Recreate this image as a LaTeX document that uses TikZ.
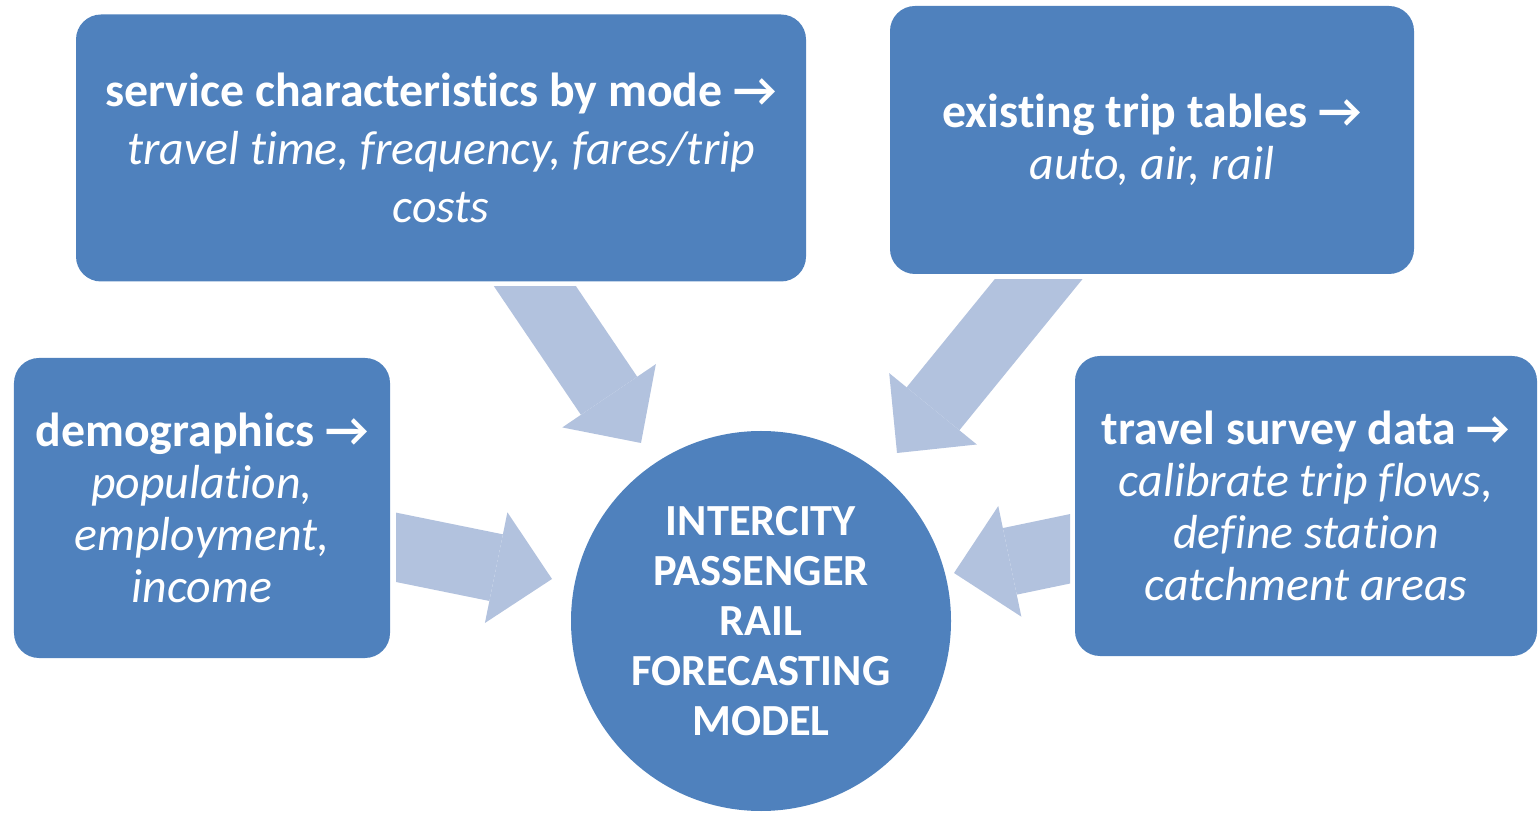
\documentclass[tikz,border=0pt]{standalone}
\usepackage{fontspec}
\setmainfont{Carlito}[Ligatures=NoCommon]
\usepackage{xcolor}
\usepackage{tikz}
\usetikzlibrary{shapes,arrows.meta,positioning,calc}

\definecolor{boxblue}{HTML}{4F81BD}
\definecolor{flowblue}{HTML}{B2C2DE}

\begin{document}
\begin{tikzpicture}[
    inbox/.style={rectangle, rounded corners=0.5cm, fill=boxblue, text=white, align=center,
        inner sep=0pt, font=\fontsize{27.2}{29.6}\selectfont},
    hub/.style={circle, fill=boxblue, text=white, align=center, inner sep=0pt,
        minimum size=7.6cm, font=\fontsize{25.3}{28.4}\selectfont\bfseries},
    flow/.style={draw=flowblue, line width=1.36cm,
        -{Triangle[length=1.14cm, width=2.26cm, line width=0pt]}, flowblue}
]
    \useasboundingbox (0,0) rectangle (30.78,16.28);

    % Inputs
    \node[inbox, minimum width=14.6cm, minimum height=5.34cm,
          font=\fontsize{27.2}{33}\selectfont] (svc) at (8.82,13.32)
        {\textbf{service characteristics by mode →}\\
         \textit{travel time, frequency, fares/trip}\\
         \textit{costs}};
    \node[inbox, minimum width=10.48cm, minimum height=5.36cm] (trips) at (23.04,13.48)
        {\textbf{existing trip tables →}\\
         \textit{auto, air, rail}};
    \node[inbox, minimum width=7.52cm, minimum height=6cm] (demo) at (4.04,6.12)
        {\textbf{demographics →}\\
         \textit{population,}\\
         \textit{employment,}\\
         \textit{income}};
    \node[inbox, minimum width=9.24cm, minimum height=6cm] (survey) at (26.12,6.16)
        {\textbf{travel survey data →}\\
         \textit{calibrate trip flows,}\\
         \textit{define station}\\
         \textit{catchment areas}};

    % Model
    \node[hub] (model) at (15.22,3.86)
        {INTERCITY\\PASSENGER\\RAIL\\FORECASTING\\MODEL};

    % Arrow ends
    \coordinate (svc-out) at (10.29,11.16);
    \coordinate (svc-in) at (12.82,7.42);
    \coordinate (trips-out) at (21.32,11.37);
    \coordinate (trips-in) at (17.94,7.22);
    \coordinate (demo-out) at (7.30,5.46);
    \coordinate (demo-in) at (11.04,4.70);
    \coordinate (survey-out) at (21.86,5.40);
    \coordinate (survey-in) at (19.08,4.82);

    % Flows
    \begin{scope}
        \clip (0,0) rectangle (30.78,10.54);
        \draw[flow] (svc-out) -- (svc-in);
    \end{scope}
    \begin{scope}
        \clip (0,0) rectangle (30.78,10.68);
        \draw[flow] (trips-out) -- (trips-in);
    \end{scope}
    \begin{scope}
        \clip (7.92,0) rectangle (30.78,16.28);
        \draw[flow] (demo-out) -- (demo-in);
    \end{scope}
    \begin{scope}
        \clip (0,0) rectangle (21.4,16.28);
        \draw[flow] (survey-out) -- (survey-in);
    \end{scope}
\end{tikzpicture}
\end{document}
